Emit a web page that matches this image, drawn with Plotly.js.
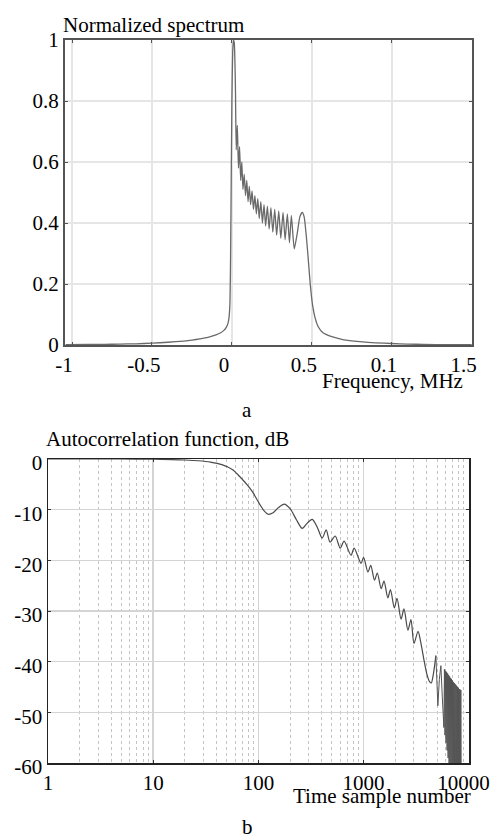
<!DOCTYPE html>
<html><head><meta charset="utf-8">
<script src="https://cdn.plot.ly/plotly-3.0.1.min.js"></script>
<style>html,body{margin:0;padding:0;background:#fff;} #chart{width:493px;height:835px;}</style>
</head><body><div id="chart"></div>
<script>
// ---- Panel a: normalized spectrum ----
const specFreq = [-1.04, -0.9, -0.8, -0.7, -0.6, -0.5, -0.4, -0.3, -0.25, -0.2,
  -0.15, -0.1, -0.07, -0.05, -0.035, -0.025, -0.018, -0.012, -0.008, -0.004,
  0.0, 0.005, 0.01,
  0.015, 0.022, 0.027, 0.034, 0.041, 0.048, 0.055, 0.062, 0.069, 0.077,
  0.085, 0.093, 0.101, 0.109, 0.117, 0.126, 0.135, 0.144, 0.153, 0.162,
  0.171, 0.181, 0.191, 0.201, 0.211, 0.222, 0.233, 0.244, 0.256, 0.268,
  0.280, 0.293, 0.306, 0.320, 0.333, 0.347, 0.360, 0.372, 0.390, 0.41,
  0.425, 0.44, 0.452, 0.465, 0.478, 0.49, 0.505, 0.52, 0.54, 0.57,
  0.62, 0.7, 0.8, 0.9, 1.0, 1.1, 1.2, 1.35, 1.5];
const specAmp = [0.001, 0.002, 0.002, 0.003, 0.004, 0.006, 0.009, 0.013, 0.016, 0.02,
  0.025, 0.033, 0.04, 0.048, 0.058, 0.07, 0.09, 0.14, 0.3, 0.55,
  0.8, 0.96, 1.0,
  0.99, 0.85, 0.64, 0.72, 0.58, 0.65, 0.54, 0.60, 0.51, 0.56,
  0.49, 0.54, 0.47, 0.52, 0.46, 0.505, 0.445, 0.49, 0.43, 0.48,
  0.415, 0.47, 0.40, 0.46, 0.39, 0.455, 0.38, 0.45, 0.37, 0.445,
  0.36, 0.44, 0.35, 0.435, 0.345, 0.43, 0.335, 0.425, 0.315, 0.37,
  0.42, 0.435, 0.42, 0.36, 0.28, 0.2, 0.13, 0.09, 0.06, 0.04,
  0.028, 0.017, 0.011, 0.007, 0.005, 0.003, 0.002, 0.001, 0.001];
const specXTickVals = [-1, -0.5, 0, 0.5, 1, 1.5];
const specXTickText = ["-1", "-0.5", "0", "0.5", "0.1", "1.5"];
const specYTickVals = [0, 0.2, 0.4, 0.6, 0.8, 1];
const specYTickText = ["0", "0.2", "0.4", "0.6", "0.8", "1"];

// ---- Panel b: autocorrelation function, dB ----
const acfLag = [1, 5, 10, 15, 20, 27, 35, 45, 57, 66,
  79, 88, 102, 113, 124, 138, 155, 176, 200, 230,
  261, 290, 325, 365, 404, 441, 480, 537, 600, 653,
  759, 813, 946, 1000, 1100, 1170, 1270, 1350, 1470, 1563,
  1700, 1800, 1960, 2080, 2270, 2420, 2640, 2820, 3013, 3290,
  3450, 3700, 4000, 4250, 4400, 4600, 4866];
const acfDb = [0, 0, -0.05, -0.12, -0.2, -0.35, -0.6, -1.1, -2.1, -3.4,
  -5.2, -6.5, -8.8, -10.2, -10.9, -10.6, -9.6, -8.9, -9.8, -12.0,
  -13.7, -12.7, -11.9, -13.6, -15.6, -14.0, -16.4, -15.2, -17.6, -16.2,
  -19.0, -17.6, -20.6, -19.4, -22.3, -21.0, -23.9, -22.5, -25.6, -24.1,
  -27.4, -25.8, -29.4, -27.5, -31.6, -29.6, -33.8, -31.7, -36.4, -34.0,
  -35.6, -39.0, -42.5, -44.0, -44.2, -42.5, -38.8];
const acfLagTail = [4866, 5080, 5250, 5430, 5600, 5800, 5870, 5940, 6010, 6080,
  6150, 6220, 6290, 6360, 6430, 6500, 6570, 6640, 6710, 6780,
  6850, 6920, 6990, 7060, 7130, 7200, 7270, 7340, 7410, 7480,
  7550, 7620, 7690, 7760, 7830, 7900, 7970, 8040, 8110, 8180,
  8250, 8320, 8400, 8460];
const acfDbTail = [-38.8, -48.7, -43.5, -40.8, -47, -53, -41.5, -54.5, -41.8, -56,
  -42.0, -57.5, -42.3, -59, -42.6, -61, -42.9, -62.5, -43.2, -64,
  -43.4, -65, -43.7, -66, -44.0, -67, -44.2, -68, -44.4, -68,
  -44.6, -69, -44.8, -69, -45.0, -70, -45.2, -70, -45.4, -70,
  -45.5, -68, -45.6, -62];
const acfXTickVals = [1, 10, 100, 1000, 10000];
const acfXTickText = ["1", "10", "100", "1000", "10000\u00a0\u00a0"];
const acfYTickVals = [-60, -50, -40, -30, -20, -10, 0];
const acfYTickText = ["-60", "-50", "-40", "-30", "-20", "-10", "0"];

const W = 493, H = 835;
const px = v => v / W;
const py = v => 1 - v / H;
const serif = 'Liberation Serif';
const tickFont = {family: serif, size: 21, color: '#000'};

const traces = [
  {x: specFreq, y: specAmp, xaxis: 'x', yaxis: 'y', mode: 'lines',
   line: {color: '#6a6a6a', width: 1.3, shape: 'spline', smoothing: 0.5}, hoverinfo: 'skip'},
  {x: acfLag, y: acfDb, xaxis: 'x2', yaxis: 'y2', mode: 'lines',
   line: {color: '#4a4a4a', width: 1.2, shape: 'spline', smoothing: 0.8}, hoverinfo: 'skip'},
  {x: acfLagTail, y: acfDbTail, xaxis: 'x2', yaxis: 'y2', mode: 'lines',
   line: {color: '#555', width: 1}, hoverinfo: 'skip'}
];

const layout = {
  width: W, height: H,
  margin: {l: 0, r: 0, t: 0, b: 0},
  paper_bgcolor: '#fff', plot_bgcolor: '#fff',
  showlegend: false,
  font: {family: serif, size: 21, color: '#000'},
  xaxis: {
    domain: [px(65), px(472)], range: [-1.044, 1.502], anchor: 'y',
    tickmode: 'array', tickvals: specXTickVals, ticktext: specXTickText,
    showgrid: true, gridcolor: '#e6e6e6', gridwidth: 1.5, zeroline: false,
    showline: true, linecolor: '#555', linewidth: 2, mirror: 'ticks',
    ticks: 'inside', ticklen: 3, tickcolor: '#555', tickfont: tickFont,
    ticklabelshift: -8, ticklabeloverflow: 'allow'
  },
  yaxis: {
    domain: [py(345), py(40)], range: [0, 1], anchor: 'x',
    tickmode: 'array', tickvals: specYTickVals, ticktext: specYTickText,
    showgrid: true, gridcolor: '#e6e6e6', gridwidth: 1.5, zeroline: false,
    showline: true, linecolor: '#555', linewidth: 2, mirror: 'ticks',
    ticks: 'inside', ticklen: 3, tickcolor: '#555', tickfont: tickFont
  },
  xaxis2: {
    type: 'log', domain: [px(48), px(469)], range: [0, 4.002], anchor: 'y2',
    tickmode: 'array', tickvals: acfXTickVals, ticktext: acfXTickText,
    showgrid: true, gridcolor: '#d4d4d4', gridwidth: 1.5, zeroline: false,
    minor: {dtick: 'D1', showgrid: true, gridcolor: '#c4c4c4', griddash: 'dot', gridwidth: 1},
    showline: true, linecolor: '#222', linewidth: 1.5, mirror: 'ticks',
    ticks: 'inside', ticklen: 3, tickcolor: '#333', tickfont: tickFont,
    ticklabeloverflow: 'allow'
  },
  yaxis2: {
    domain: [py(763), py(459)], range: [-60, 0], anchor: 'x2',
    tickmode: 'array', tickvals: acfYTickVals, ticktext: acfYTickText,
    showgrid: true, gridcolor: '#d4d4d4', gridwidth: 1.5, zeroline: false,
    showline: true, linecolor: '#222', linewidth: 1.5, mirror: 'ticks',
    ticks: 'inside', ticklen: 3, tickcolor: '#333', tickfont: tickFont,
    ticklabelshift: 4
  },
  annotations: [
    {text: 'Normalized spectrum', xref: 'paper', yref: 'paper', x: px(61), y: py(25),
     xanchor: 'left', yanchor: 'middle', showarrow: false, font: tickFont},
    {text: 'Frequency, MHz', xref: 'paper', yref: 'paper', x: px(465), y: py(381),
     xanchor: 'right', yanchor: 'middle', showarrow: false, font: tickFont},
    {text: 'a', xref: 'paper', yref: 'paper', x: px(247), y: py(410),
     xanchor: 'center', yanchor: 'middle', showarrow: false, font: tickFont},
    {text: 'Autocorrelation function, dB', xref: 'paper', yref: 'paper', x: px(44), y: py(439),
     xanchor: 'left', yanchor: 'middle', showarrow: false, font: tickFont},
    {text: 'Time sample number', xref: 'paper', yref: 'paper', x: px(473), y: py(796),
     xanchor: 'right', yanchor: 'middle', showarrow: false, font: tickFont},
    {text: 'b', xref: 'paper', yref: 'paper', x: px(247), y: py(827),
     xanchor: 'center', yanchor: 'middle', showarrow: false, font: tickFont}
  ]
};

Plotly.newPlot('chart', traces, layout, {staticPlot: true, displayModeBar: false});
</script></body></html>
